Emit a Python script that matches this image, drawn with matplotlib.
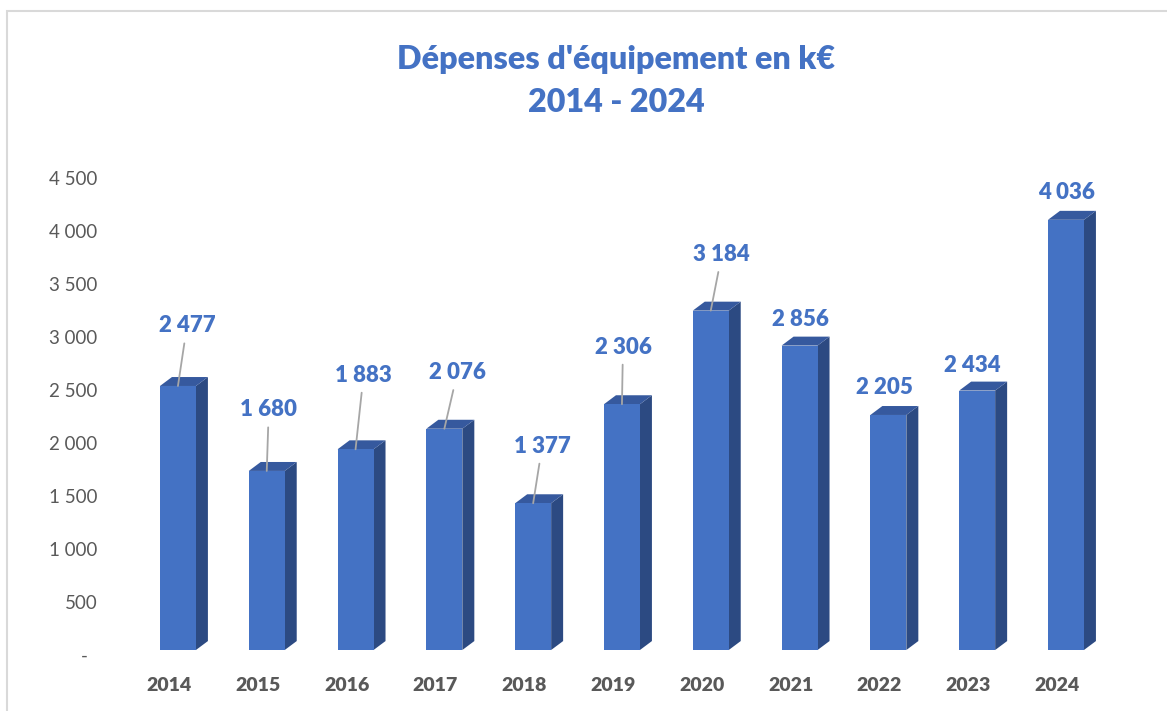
import matplotlib.pyplot as plt
from matplotlib.patches import Polygon, Rectangle

plt.rcParams['font.family'] = ['Lato', 'DejaVu Sans']

years = ['2014', '2015', '2016', '2017', '2018', '2019',
         '2020', '2021', '2022', '2023', '2024']
depenses = [2477, 1680, 1883, 2076, 1377, 2306, 3184, 2856, 2205, 2434, 4036]

# where each value label sits relative to the top of its bar (pixels),
# and whether a leader line joins them
label_offsets = [(9, 60), (2, 61), (8, 74), (13, 56), (9, 57), (1, 57),
                 (11, 56), (1, 26), (-4, 27), (-5, 25), (1, 27)]
with_leader = [True, True, True, True, True, True, True,
               False, False, False, False]

blue = '#4472C4'
side_col = '#2C4A82'
top_col = '#36599E'
grey_txt = '#595959'

bar_w = 0.405
depth_x = 0.135   # fake 3D depth of the columns
depth_y = 84

fig = plt.figure(figsize=(11.67, 7.11), dpi=100)
ax = fig.add_axes([0.0878, 0.0558, 0.8865, 0.7346])

xs = list(range(len(years)))
ax.bar(xs, depenses, width=bar_w, color=blue, zorder=3)

for x, v in zip(xs, depenses):
    r = x + bar_w / 2
    l = x - bar_w / 2
    side = Polygon([(r, 0), (r, v), (r + depth_x, v + depth_y), (r + depth_x, depth_y)],
                   closed=True, facecolor=side_col, edgecolor='none', zorder=2)
    top = Polygon([(l, v), (r, v), (r + depth_x, v + depth_y), (l + depth_x, v + depth_y)],
                  closed=True, facecolor=top_col, edgecolor='none', zorder=2)
    ax.add_patch(side)
    ax.add_patch(top)

for x, v, (dx, dy), lead in zip(xs, depenses, label_offsets, with_leader):
    txt = f'{v:,}'.replace(',', ' ')
    arrow = dict(arrowstyle='-', color='#A6A6A6', lw=1.3, shrinkA=3, shrinkB=0) if lead else None
    ax.annotate(txt, xy=(x, v), xytext=(dx, dy), textcoords='offset pixels',
                ha='center', va='center', fontsize=16, fontweight='heavy',
                color=blue, arrowprops=arrow, zorder=5)

ax.set_xlim(-0.85, 10.8)
ax.set_ylim(-200, 4700)

# the value axis sits on the back wall: a little lower and a touch
# compressed compared with the column fronts
yvals = list(range(0, 4501, 500))
ylabels = ['-  ' if t == 0 else f'{t:,}'.replace(',', ' ') for t in yvals]
ax.set_yticks([t * 0.994 - 47 for t in yvals])
ax.set_yticklabels(ylabels, fontsize=13.5, color=grey_txt)

ax.set_xticks([x - 0.1 for x in xs])
ax.set_xticklabels(years, fontsize=14, fontweight='heavy', color=grey_txt)

ax.tick_params(axis='y', length=0, pad=3.5)
ax.tick_params(axis='x', length=0, pad=4)
for s in ax.spines.values():
    s.set_visible(False)

fig.text(616 / 1167, 1 - 59 / 711, "Dépenses d'équipement en k€",
         ha='center', va='center', fontsize=23.2, fontweight='heavy', color=blue)
fig.text(616 / 1167, 1 - 102 / 711, '2014 - 2024',
         ha='center', va='center', fontsize=23.2, fontweight='heavy', color=blue)

# chart area border
fig.add_artist(Rectangle((7 / 1167, -0.1), 1.2, 1.1 - 11 / 711, transform=fig.transFigure,
                         fill=False, edgecolor='#D9D9D9', lw=1.5))

fig.savefig('out.png', dpi=100)
